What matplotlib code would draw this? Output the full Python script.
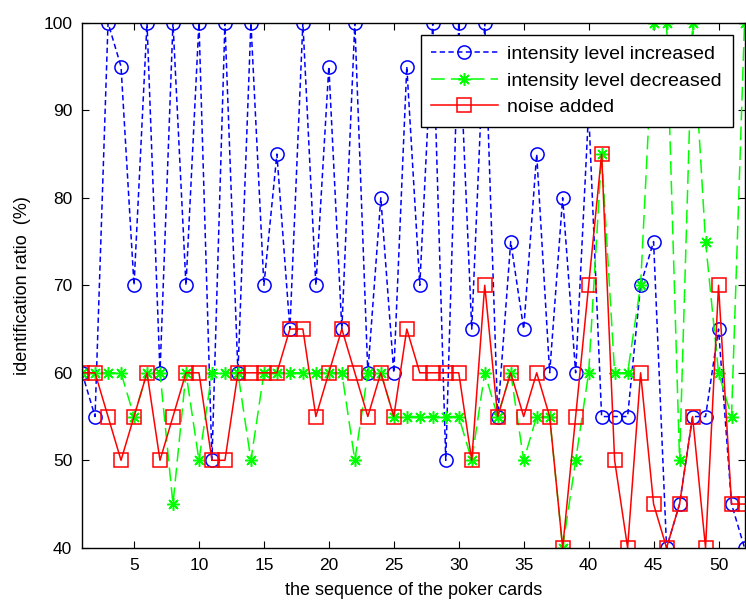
import numpy as np
import matplotlib
matplotlib.use("Agg")
import matplotlib.pyplot as plt

plt.rcParams['font.family'] = ['Liberation Sans', 'DejaVu Sans']

cards = np.arange(1, 53)

increased = [60, 55, 100, 95, 70, 100, 60, 100, 70, 100,
             50, 100, 60, 100, 70, 85, 65, 100, 70, 95,
             65, 100, 60, 80, 60, 95, 70, 100, 50, 100,
             65, 100, 55, 75, 65, 85, 60, 80, 60, 90,
             55, 55, 55, 70, 75, 40, 45, 55, 55, 65,
             45, 40]

decreased = [60, 60, 60, 60, 55, 60, 60, 45, 60, 50,
             60, 60, 60, 50, 60, 60, 60, 60, 60, 60,
             60, 50, 60, 60, 55, 55, 55, 55, 55, 55,
             50, 60, 55, 60, 50, 55, 55, 40, 50, 60,
             85, 60, 60, 70, 100, 100, 50, 100, 75, 60,
             55, 100]

noise = [60, 60, 55, 50, 55, 60, 50, 55, 60, 60,
         50, 50, 60, 60, 60, 60, 65, 65, 55, 60,
         65, 60, 55, 60, 55, 65, 60, 60, 60, 60,
         50, 70, 55, 60, 55, 60, 55, 40, 55, 70,
         85, 50, 40, 60, 45, 40, 45, 55, 40, 70,
         45, 45]

labels = ["intensity level increased", "intensity level decreased", "noise added"]

fig = plt.figure(figsize=(7.46, 6.0), dpi=100)
ax = fig.add_axes([0.110, 0.087, 0.888, 0.875])

ax.plot(cards, increased, color="#0000ff", linestyle=(0, (3.5, 2.2)), lw=1.1,
        marker="o", markersize=9.5, markerfacecolor="none", markeredgewidth=1.1,
        label=labels[0])
ax.plot(cards, decreased, color="#00ff00", linestyle=(0, (9, 4)), lw=1.1,
        marker=(8, 2, 0), markersize=9, markeredgewidth=1.1,
        label=labels[1])
ax.plot(cards, noise, color="#ff0000", linestyle="-", lw=1.1,
        marker="s", markersize=10, markerfacecolor="none", markeredgewidth=1.1,
        label=labels[2])

ax.set_xlim(1, 52)
ax.set_ylim(40, 100)
ax.set_xticks(range(5, 51, 5))
ax.set_yticks(range(40, 101, 10))
ax.tick_params(direction="in", top=True, right=True, length=5, labelsize=12.5, pad=7)
for s in ax.spines.values():
    s.set_linewidth(1.0)

ax.set_xlabel("the sequence of the poker cards", fontsize=13, labelpad=7)
ax.set_ylabel("identification ratio  (%)", fontsize=13, labelpad=9)

leg = ax.legend(loc="upper right", bbox_to_anchor=(0.982, 0.977), borderaxespad=0,
                fontsize=14, handlelength=3.4, handletextpad=0.5, fancybox=False,
                framealpha=1, edgecolor="black", labelspacing=0.45, borderpad=0.55)
leg.get_frame().set_linewidth(1.0)

fig.savefig("out.png", dpi=100)
